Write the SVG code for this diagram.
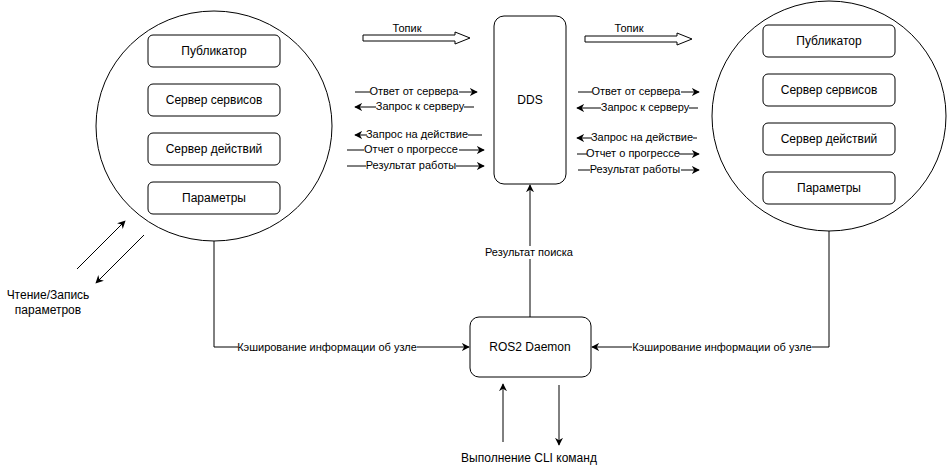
<svg xmlns="http://www.w3.org/2000/svg" width="948" height="467" viewBox="0 0 948 467">
<defs>
<marker id="ah" viewBox="0 0 10 10" refX="9" refY="5" markerWidth="8" markerHeight="8" markerUnits="userSpaceOnUse" orient="auto-start-reverse">
<path d="M0,0 L10,5 L0,10 L3,5 Z" fill="#000"/>
</marker>
</defs>
<style>
text{font-family:"Liberation Sans",Arial,sans-serif;fill:#000}
.n{font-size:12px;text-anchor:middle;dominant-baseline:central}
.l{font-size:11px;text-anchor:middle;dominant-baseline:central}
.box{fill:#fff;stroke:#000;stroke-width:1}
.ln{fill:none;stroke:#000;stroke-width:1}
.bg{fill:#fff}
</style>
<rect width="948" height="467" fill="#fff"/>

<g id="node-left">
<ellipse cx="214" cy="126" rx="118" ry="115" class="box"/>
<g id="l-pub"><rect x="148" y="35" width="132" height="32" rx="5" class="box"/><text x="214" y="51" class="n">Публикатор</text></g>
<g id="l-srv"><rect x="148" y="84" width="132" height="32" rx="5" class="box"/><text x="214" y="100" class="n">Сервер сервисов</text></g>
<g id="l-act"><rect x="148" y="133" width="132" height="32" rx="5" class="box"/><text x="214" y="149" class="n">Сервер действий</text></g>
<g id="l-par"><rect x="148" y="182" width="132" height="32" rx="5" class="box"/><text x="214" y="198" class="n">Параметры</text></g>
</g>

<g id="node-right">
<ellipse cx="829" cy="116" rx="117" ry="115" class="box"/>
<g id="r-pub"><rect x="763" y="25" width="132" height="32" rx="5" class="box"/><text x="829" y="41" class="n">Публикатор</text></g>
<g id="r-srv"><rect x="763" y="74" width="132" height="32" rx="5" class="box"/><text x="829" y="90" class="n">Сервер сервисов</text></g>
<g id="r-act"><rect x="763" y="123" width="132" height="32" rx="5" class="box"/><text x="829" y="139" class="n">Сервер действий</text></g>
<g id="r-par"><rect x="763" y="172" width="132" height="32" rx="5" class="box"/><text x="829" y="188" class="n">Параметры</text></g>
</g>

<g id="node-dds">
<rect x="494" y="16" width="72" height="168" rx="10" class="box"/>
<text x="530" y="100" class="n">DDS</text>
</g>

<g id="node-daemon">
<rect x="470" y="317" width="121" height="60" rx="9" class="box"/>
<text x="530" y="347" class="n">ROS2 Daemon</text>
</g>

<g id="connectors">
<!-- topic block arrows -->
<path d="M363,35 L455,35 L455,32 L470,38 L455,44 L455,41 L363,41 Z" class="box"/>
<text x="407" y="28" class="l">Топик</text>
<path d="M585,36 L677,36 L677,33 L692,39 L677,45 L677,42 L585,42 Z" class="box"/>
<text x="629" y="28" class="l">Топик</text>

<!-- left side labelled arrows -->
<line x1="355" y1="92" x2="477" y2="92" class="ln" marker-end="url(#ah)"/>
<rect x="370" y="86" width="89" height="12" class="bg"/><text x="414" y="91" class="l">Ответ от сервера</text>
<line x1="355" y1="107" x2="474" y2="107" class="ln" marker-start="url(#ah)"/>
<rect x="376" y="101" width="88" height="12" class="bg"/><text x="420" y="106" class="l">Запрос к серверу</text>
<line x1="355" y1="135" x2="482" y2="135" class="ln" marker-start="url(#ah)"/>
<rect x="367" y="129" width="101" height="12" class="bg"/><text x="417" y="134" class="l">Запрос на действие</text>
<line x1="347" y1="150" x2="484" y2="150" class="ln" marker-end="url(#ah)"/>
<rect x="364" y="144" width="95" height="12" class="bg"/><text x="411" y="149" class="l">Отчет о прогрессе</text>
<line x1="347" y1="166" x2="484" y2="166" class="ln" marker-end="url(#ah)"/>
<rect x="366" y="160" width="90" height="12" class="bg"/><text x="411" y="165" class="l">Результат работы</text>

<!-- right side labelled arrows -->
<line x1="578" y1="92" x2="699" y2="92" class="ln" marker-end="url(#ah)"/>
<rect x="592" y="86" width="89" height="12" class="bg"/><text x="636" y="91" class="l">Ответ от сервера</text>
<line x1="577" y1="108" x2="698" y2="108" class="ln" marker-start="url(#ah)"/>
<rect x="601" y="102" width="88" height="12" class="bg"/><text x="645" y="107" class="l">Запрос к серверу</text>
<line x1="577" y1="138" x2="697" y2="138" class="ln" marker-start="url(#ah)"/>
<rect x="592" y="132" width="101" height="12" class="bg"/><text x="642" y="137" class="l">Запрос на действие</text>
<line x1="577" y1="154" x2="699" y2="154" class="ln" marker-end="url(#ah)"/>
<rect x="587" y="148" width="92" height="12" class="bg"/><text x="633" y="153" class="l">Отчет о прогрессе</text>
<line x1="578" y1="170" x2="699" y2="170" class="ln" marker-end="url(#ah)"/>
<rect x="590" y="164" width="91" height="12" class="bg"/><text x="635" y="169" class="l">Результат работы</text>

<!-- daemon to DDS -->
<line x1="530" y1="317" x2="530" y2="185" class="ln" marker-end="url(#ah)"/>
<rect x="484" y="246" width="90" height="13" class="bg"/><text x="529" y="252" class="l">Результат поиска</text>

<!-- cache lines -->
<polyline points="214,241 214,347 469,347" class="ln" marker-end="url(#ah)"/>
<rect x="238" y="341" width="179" height="12" class="bg"/><text x="327" y="347" class="l">Кэширование информации об узле</text>
<polyline points="829,231 829,347 592,347" class="ln" marker-end="url(#ah)"/>
<rect x="632" y="341" width="180" height="12" class="bg"/><text x="722" y="347" class="l">Кэширование информации об узле</text>

<!-- CLI -->
<line x1="503" y1="442" x2="503" y2="384" class="ln" marker-end="url(#ah)"/>
<line x1="559" y1="385" x2="559" y2="445" class="ln" marker-end="url(#ah)"/>
<text x="529" y="458" class="n">Выполнение CLI команд</text>

<!-- params -->
<line x1="77" y1="269" x2="125" y2="221" class="ln" marker-end="url(#ah)"/>
<line x1="144" y1="235" x2="96" y2="283" class="ln" marker-end="url(#ah)"/>
<text x="48" y="295" class="n">Чтение/Запись</text>
<text x="48" y="310" class="n">параметров</text>
</g>
</svg>
